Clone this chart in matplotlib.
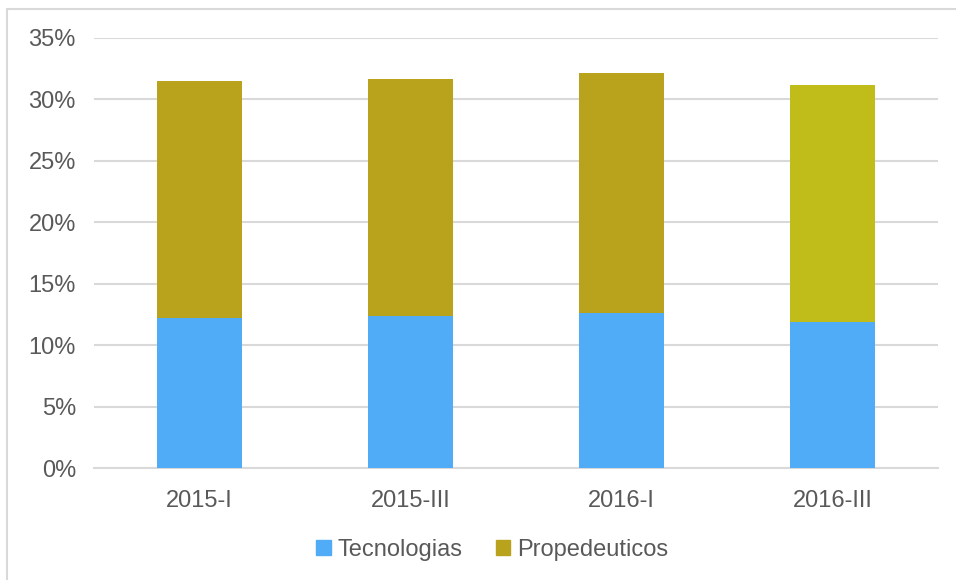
import numpy as np
import matplotlib.pyplot as plt
from matplotlib.patches import Rectangle
from matplotlib.ticker import FuncFormatter

plt.rcParams['font.family'] = ['Liberation Sans', 'DejaVu Sans']

periods = ['2015-I', '2015-III', '2016-I', '2016-III']
tecnologias = [12.2, 12.4, 12.6, 11.9]
propedeuticos = [19.3, 19.3, 19.55, 19.3]

blue = '#50ACF7'
olive = '#B9A31C'
prop_colors = [olive, olive, olive, '#C0BC1A']
text_col = '#595959'
grid_col = '#D9D9D9'

fig = plt.figure(figsize=(9.56, 5.8), dpi=100)
ax = fig.add_axes([0.0983, 0.1931, 0.8827, 0.7414])

x = np.arange(len(periods))
ax.bar(x, tecnologias, width=0.4, color=blue, zorder=3)
ax.bar(x, propedeuticos, width=0.4, bottom=tecnologias, color=prop_colors, zorder=3)

ax.set_xlim(-0.5, 3.5)
ax.set_ylim(0, 35)
ax.set_yticks(np.arange(0, 36, 5))
ax.yaxis.set_major_formatter(FuncFormatter(lambda v, p: f'{v:.0f}%'))
ax.set_xticks(x)
ax.set_xticklabels(periods)

ax.grid(axis='y', color=grid_col, lw=1.5, zorder=0)
for s in ['top', 'right', 'left']:
    ax.spines[s].set_visible(False)
ax.spines['bottom'].set_color(grid_col)
ax.spines['bottom'].set_linewidth(1.5)
ax.tick_params(length=0, labelsize=17, labelcolor=text_col)
ax.tick_params(axis='y', pad=13)
ax.tick_params(axis='x', pad=16)

# legend
h1 = Rectangle((0, 0), 1, 1, color=blue)
h2 = Rectangle((0, 0), 1, 1, color=olive)
fig.legend([h1, h2], ['Tecnologias', 'Propedeuticos'], loc='center',
           bbox_to_anchor=(0.515, 0.052), ncol=2, frameon=False,
           fontsize=17, labelcolor=text_col, handlelength=0.6,
           handleheight=0.6, handletextpad=0.3, columnspacing=1.4)

# outer chart border
fig.patches.append(Rectangle((7 / 956, -0.05), 1.2, 1 - 9 / 580 + 0.05,
                             transform=fig.transFigure, fill=False,
                             edgecolor='#D9D9D9', lw=1.5))

plt.savefig('out.png', dpi=100)
